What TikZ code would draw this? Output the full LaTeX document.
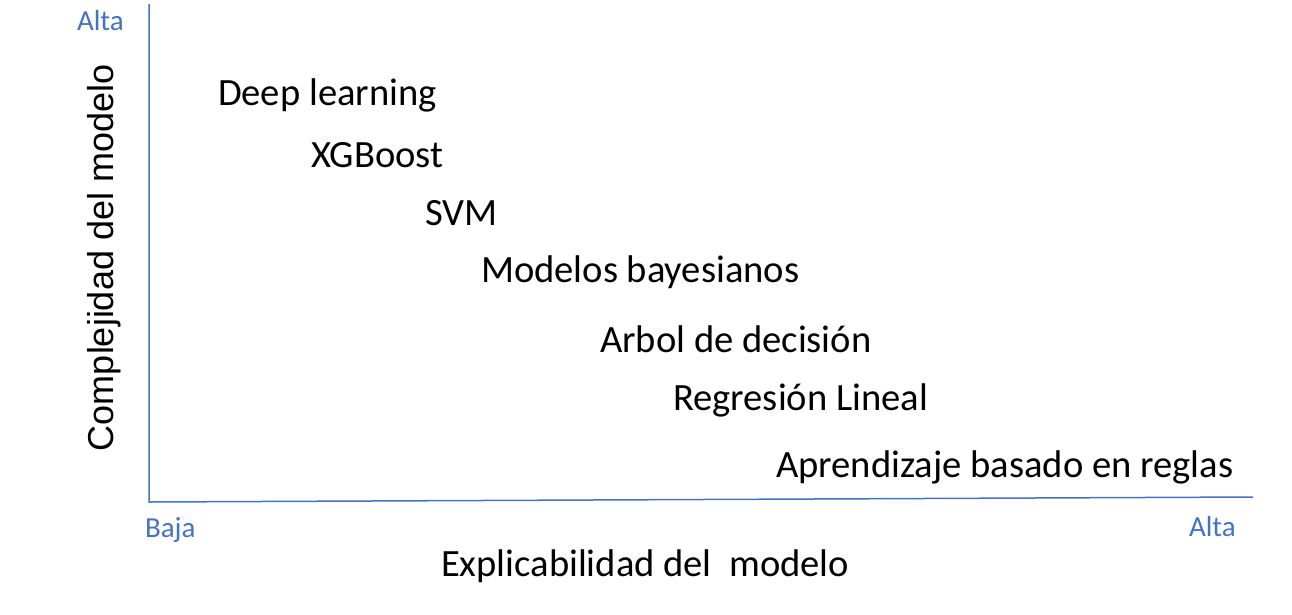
\documentclass[tikz,border=0pt]{standalone}
\usepackage{fontspec}
\setmainfont{Carlito}
\newfontfamily\vlabelfont{Liberation Sans}
\definecolor{axisblue}{HTML}{4472C4}

\begin{document}
\begin{tikzpicture}[
  x=1pt,
  y=-1pt,
  inner sep=0pt,
  outer sep=0pt,
  axisline/.style={draw=axisblue, line width=1.5pt},
  levellabel/.style={text=axisblue, anchor=base west, font=\fontsize{29}{34}\selectfont},
  modellabel/.style={anchor=base west, font=\fontsize{38.6}{44}\selectfont},
]
  \useasboundingbox (0, 0) rectangle (1292, 614);

  % axes
  \coordinate (ytop) at (149, 4);
  \coordinate (origin) at (149, 502);
  \coordinate (xend) at (1253, 497);
  \draw[axisline] (ytop) -- (origin) -- (xend);

  % models, from complex to explainable
  \path[every node/.append style={modellabel}]
    \foreach \name/\px/\py/\txt in {
      deep/218/105/Deep learning,
      xgb/311/167/XGBoost,
      svm/425/225/SVM,
      bayes/481/282/Modelos bayesianos,
      tree/600/352/Arbol de decisión,
      linreg/673/410/Regresión Lineal,
      rules/776/477/Aprendizaje basado en reglas%
    } {
      (\px, \py) node (\name) {\txt}
    }
  ;

  % axis titles
  \node[modellabel] (xtitle) at (441, 576) {Explicabilidad del~ modelo};
  \node[anchor=base west, rotate=90, font=\vlabelfont\fontsize{36}{40}\selectfont]
    (ytitle) at (113, 451) {Complejidad del modelo};

  % ends of the scales
  \node[levellabel] (yhigh) at (77, 30) {Alta};
  \node[levellabel] (xlow) at (145, 537) {Baja};
  \node[levellabel] (xhigh) at (1189, 536) {Alta};
\end{tikzpicture}
\end{document}
